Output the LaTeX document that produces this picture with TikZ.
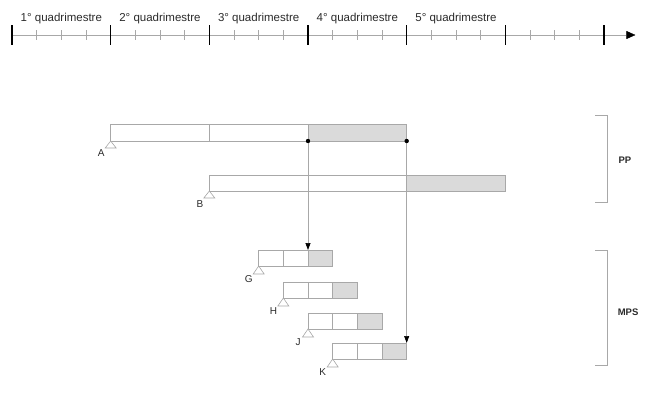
\documentclass[tikz,border=0pt]{standalone}
\usepackage{fontspec}
\setmainfont{Liberation Sans}
\usepackage{tikz}
\usetikzlibrary{arrows.meta,positioning}
\definecolor{linegray}{HTML}{A8A8A8}
\definecolor{donegray}{HTML}{DADADA}
\definecolor{txt}{HTML}{2A2A2A}

\begin{document}
\begin{tikzpicture}[
x=24.667pt,y=-1pt,
font=\fontsize{11.5}{13}\selectfont,
cell/.style={draw=linegray,line width=0.7pt,fill=white},
done/.style={cell,fill=donegray},
foot/.style={draw=linegray,line width=0.6pt,fill=white},
tag/.style={text=txt,font=\fontsize{10}{12}\selectfont,inner sep=0pt},
group/.style={text=txt,font=\bfseries\fontsize{9.5}{12}\selectfont,inner sep=0pt,anchor=west},
flow/.style={draw=linegray,line width=0.7pt,-{Triangle[length=7pt,width=5pt,color=black]}},
scale=1]
\useasboundingbox (-0.4865,0) rectangle (25.946,394);

% Draw time axis
\draw[linegray,line width=0.8pt] (0,35) -- (24.9,35);
\node[inner sep=0pt] (tip) at (25.3,35) {};
\draw[-{Triangle[length=9pt,width=8pt,color=black]},draw=linegray] (24.8,35) -- (tip);
\foreach \m in {0,...,24}
  \draw[linegray,line width=0.6pt] (\m,30) -- (\m,40);
\foreach \m in {0,4,...,24}
  \draw[black,line width=1.3pt] (\m,25) -- (\m,45);
\foreach \q/\m in {1/2,2/6,3/10,4/14,5/18}
  \node[text=txt] (q\q) at (\m,19) {\q° quadrimestre};

% PP
\draw[cell] (4,124) rectangle (8,141);
\draw[cell] (8,124) rectangle (12,141);
\draw[done] (12,124) rectangle (16,141);
\draw[foot] (4,141) -- ++(-5.5pt,7) -- ++(11pt,0) -- cycle;
\node[tag] (A) at (3.62,153) {A};

\draw[cell] (8,175) rectangle (16,191);
\draw[done] (16,175) rectangle (20,191);
\draw[foot] (8,191) -- ++(-5.5pt,7) -- ++(11pt,0) -- cycle;
\node[tag] (B) at (7.62,204) {B};

% MPS
\foreach \n/\s/\y in {G/10/250,H/11/282,J/12/313,K/13/343}{
  \draw[cell] (\s,\y) rectangle ++(1,16);
  \draw[cell] (\s+1,\y) rectangle ++(1,16);
  \draw[done] (\s+2,\y) rectangle ++(1,16);
  \draw[foot] (\s,\y+16) -- ++(-5.5pt,8) -- ++(11pt,0) -- cycle;
  \node[tag] (\n) at (\s-0.4,\y+29) {\n};
}

% Links
\coordinate (d1) at (12,141);
\coordinate (d2) at (16,141);
\coordinate (topG) at (12,250);
\coordinate (topK) at (16,343);
\draw[flow] (d1) -- (topG);
\draw[flow] (d2) -- (topK);
\fill (d1) circle (2.2pt);
\fill (d2) circle (2.2pt);

% Brackets
\draw[linegray,line width=0.9pt] (23.64,115) -- (24.12,115) -- (24.12,202) -- (23.64,202);
\draw[linegray,line width=0.9pt] (23.64,250) -- (24.12,250) -- (24.12,365) -- (23.64,365);
\node[group] (PP) at (24.58,160) {PP};
\node[group] (MPS) at (24.55,312) {MPS};

\end{tikzpicture}
\end{document}
